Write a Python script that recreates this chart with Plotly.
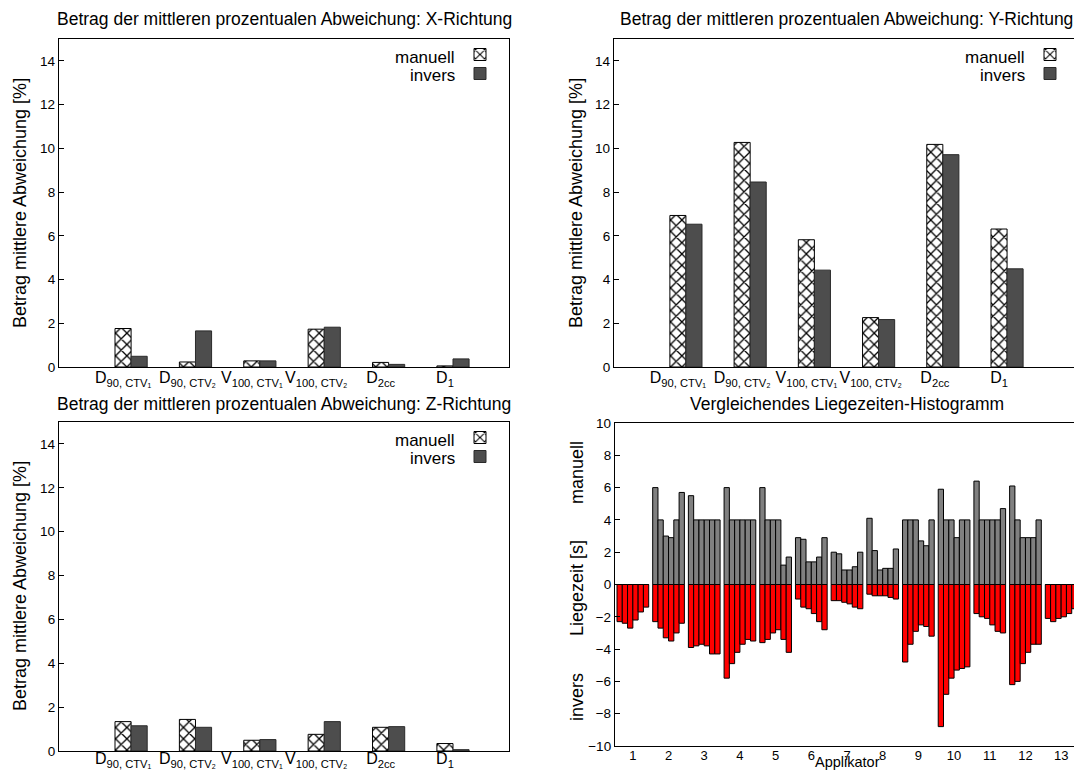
import plotly.graph_objects as go

# ---------------- data ----------------
categories = ["D<sub>90, CTV₁</sub>", "D<sub>90, CTV₂</sub>", "V<sub>100, CTV₁</sub>",
              "V<sub>100, CTV₂</sub>", "D<sub>2cc</sub>", "D<sub>1</sub>"]

x_manuell = [1.76, 0.23, 0.28, 1.73, 0.21, 0.05]
x_invers = [0.49, 1.65, 0.28, 1.82, 0.12, 0.37]
y_manuell = [6.93, 10.27, 5.82, 2.26, 10.18, 6.31]
y_invers = [6.53, 8.46, 4.43, 2.17, 9.71, 4.49]
z_manuell = [1.34, 1.44, 0.49, 0.76, 1.08, 0.34]
z_invers = [1.15, 1.08, 0.52, 1.34, 1.11, 0.06]

applikatoren = list(range(1, 14))
# six dwell positions per applicator
hist_manuell = [
    [0, 0, 0, 0, 0, 0],
    [6.0, 4.0, 3.0, 2.9, 4.0, 5.7],
    [5.5, 4.0, 4.0, 4.0, 4.0, 4.0],
    [6.0, 4.0, 4.0, 4.0, 4.0, 4.0],
    [6.0, 4.0, 4.0, 4.0, 1.2, 1.7],
    [2.9, 2.8, 1.4, 1.4, 1.7, 2.9],
    [2.0, 1.9, 0.9, 0.9, 1.1, 2.0],
    [4.1, 2.1, 0.9, 1.0, 1.0, 2.2],
    [4.0, 4.0, 4.0, 2.7, 2.4, 4.0],
    [5.9, 4.0, 4.0, 2.9, 4.0, 4.0],
    [6.4, 4.0, 4.0, 4.0, 4.0, 4.7],
    [6.1, 4.0, 2.9, 2.9, 2.9, 4.0],
    [0, 0, 0, 0, 0, 0],
]
hist_invers = [
    [-2.3, -2.4, -2.7, -2.2, -1.7, -1.4],
    [-2.3, -2.7, -3.3, -3.5, -3.0, -2.4],
    [-3.9, -3.8, -3.7, -3.8, -4.3, -4.3],
    [-5.8, -4.9, -4.2, -3.7, -3.4, -3.5],
    [-3.6, -3.4, -3.0, -2.8, -3.4, -4.2],
    [-0.9, -1.4, -1.5, -1.8, -2.3, -2.8],
    [-1.0, -1.0, -1.1, -1.2, -1.4, -1.5],
    [-0.6, -0.7, -0.7, -0.7, -0.8, -0.9],
    [-4.8, -3.7, -2.9, -2.5, -2.6, -3.2],
    [-8.8, -6.8, -5.8, -5.3, -5.2, -5.1],
    [-1.8, -2.0, -2.1, -2.5, -2.9, -3.0],
    [-6.2, -6.0, -4.9, -4.2, -3.7, -3.7],
    [-2.1, -2.3, -2.1, -2.0, -1.8, -1.5],
]

titles = ["Betrag der mittleren prozentualen Abweichung: X-Richtung",
          "Betrag der mittleren prozentualen Abweichung: Y-Richtung",
          "Betrag der mittleren prozentualen Abweichung: Z-Richtung",
          "Vergleichendes Liegezeiten-Histogramm"]
ylabel = "Betrag mittlere Abweichung [%]"

# ---------------- layout helpers ----------------
OFF = 8                      # default page margin of the html body
W, H = 1082 - OFF, 771 - OFF
FONT = "Liberation Sans, Arial, Helvetica, sans-serif"


def px(v):
    """screen x pixel -> paper fraction"""
    return (v - OFF) / W


def py(v):
    """screen y pixel -> paper fraction"""
    return 1 - (v - OFF) / H


fig = go.Figure()

panels = [
    (x_manuell, x_invers, "x", "y", "legend"),
    (y_manuell, y_invers, "x2", "y2", "legend2"),
    (z_manuell, z_invers, "x3", "y3", "legend3"),
]

for man, inv, xa, ya, lg in panels:
    fig.add_trace(go.Bar(
        x=categories, y=man, name="", xaxis=xa, yaxis=ya, legend=lg,
        marker=dict(color="white", line=dict(color="black", width=1),
                    pattern=dict(shape="x", fgcolor="black", bgcolor="white",
                                 size=8, solidity=0.3, fillmode="replace")),
        hoverinfo="skip"))
    fig.add_trace(go.Bar(
        x=categories, y=inv, name="", xaxis=xa, yaxis=ya, legend=lg,
        marker=dict(color="#4d4d4d", line=dict(color="#2a2a2a", width=1)),
        hoverinfo="skip"))

# histogram (six dwell positions per applicator)
bw = 0.148
for k in range(6):
    fig.add_trace(go.Bar(
        x=applikatoren, y=[row[k] for row in hist_manuell],
        width=bw, offset=(k - 3) * bw, xaxis="x4", yaxis="y4", showlegend=False,
        marker=dict(color="#808080", line=dict(color="black", width=1)),
        hoverinfo="skip"))
    fig.add_trace(go.Bar(
        x=applikatoren, y=[row[k] for row in hist_invers],
        width=bw, offset=(k - 3) * bw, xaxis="x4", yaxis="y4", showlegend=False,
        marker=dict(color="#ff0000", line=dict(color="black", width=1)),
        hoverinfo="skip"))

# panel boxes in screen pixels: (left, right, top, bottom)
boxes = {
    1: (59, 509, 39, 367),
    2: (614, 1079, 39, 367),
    3: (59, 509, 422, 751),
    4: (615, 1079, 423, 746),
}


def dom(b):
    l, r, t, bt = b
    return [px(l), px(r)], [py(bt), py(t)]


axis_common = dict(showline=True, mirror=True, linecolor="black", linewidth=1.3,
                   showgrid=False, zeroline=False, automargin=False)

layout = dict(
    width=W, height=H, margin=dict(l=0, r=0, t=0, b=0, pad=0, autoexpand=False),
    paper_bgcolor="white", plot_bgcolor="white",
    font=dict(family=FONT, color="black", size=13),
    barmode="group", bargap=0.5, bargroupgap=0,
    showlegend=True,
)

xranges = {1: [-1.12, 5.87], 2: [-1.12, 6.12], 3: [-1.12, 5.87]}
standoffs = {1: -4, 2: -4, 3: -7}
for i in (1, 2, 3):
    xd, yd = dom(boxes[i])
    sx = "" if i == 1 else str(i)
    layout["xaxis" + sx] = dict(axis_common, domain=xd, anchor="y" + sx, type="category",
                                range=xranges[i], ticks="", tickfont=dict(size=16),
                                ticklabelshift=-8, ticklabelstandoff=standoffs[i])
    layout["yaxis" + sx] = dict(axis_common, domain=yd, anchor="x" + sx, range=[0, 15],
                                tickvals=list(range(0, 15, 2)), ticks="inside", ticklen=5,
                                tickcolor="black", tickfont=dict(size=13.5))

xd, yd = dom(boxes[4])
layout["xaxis4"] = dict(axis_common, domain=xd, anchor="y4", range=[0.5, 13.5],
                        tickvals=applikatoren, ticks="", tickfont=dict(size=13),
                        ticklabelstandoff=-3)
layout["yaxis4"] = dict(axis_common, domain=yd, anchor="x4", range=[-10, 10],
                        tickvals=list(range(-10, 11, 2)), ticks="inside", ticklen=5,
                        tickcolor="black", tickfont=dict(size=13.5))

# legends (swatches only, text drawn as annotations to the left like gnuplot keys)
for i, lg in zip((1, 2, 3), ("legend", "legend2", "legend3")):
    l, r, t, b = boxes[i]
    layout[lg] = dict(x=px(r - 4), y=py(t + 1), xanchor="right", yanchor="top",
                      bgcolor="rgba(0,0,0,0)", borderwidth=0, font=dict(size=11),
                      itemwidth=30, tracegroupgap=0, traceorder="normal")

fig.update_layout(**layout)

annotations = []
title_pos = [(284, 19), (846, 19), (284, 404), (847, 404)]
for t, (cx, cy) in zip(titles, title_pos):
    annotations.append(dict(text=t, x=px(cx), y=py(cy), xref="paper", yref="paper",
                            showarrow=False, font=dict(size=17.5), xanchor="center",
                            yanchor="middle"))
for (cx, cy) in [(20, 203), (576, 203), (20, 586)]:
    annotations.append(dict(text=ylabel, x=px(cx), y=py(cy), xref="paper", yref="paper",
                            showarrow=False, textangle=-90, font=dict(size=18),
                            xanchor="center", yanchor="middle"))
for i in (1, 2, 3):
    l, r, t, b = boxes[i]
    for j, name in enumerate(["manuell", "invers"]):
        annotations.append(dict(text=name, x=px(r - 52), y=py(t + 18 + 18 * j),
                                xref="paper", yref="paper", showarrow=False,
                                font=dict(size=17), xanchor="right", yanchor="middle"))
for name, cy in [("manuell", 473), ("Liegezeit [s]", 588), ("invers", 697)]:
    annotations.append(dict(text=name, x=px(577), y=py(cy), xref="paper", yref="paper",
                            showarrow=False, textangle=-90, font=dict(size=18),
                            xanchor="center", yanchor="middle"))
annotations.append(dict(text="Applikator", x=px(847), y=py(771), xref="paper", yref="paper",
                        showarrow=False, font=dict(size=14.5), xanchor="center",
                        yanchor="bottom", borderpad=0))

fig.update_layout(annotations=annotations)

fig.write_html("out.html")
